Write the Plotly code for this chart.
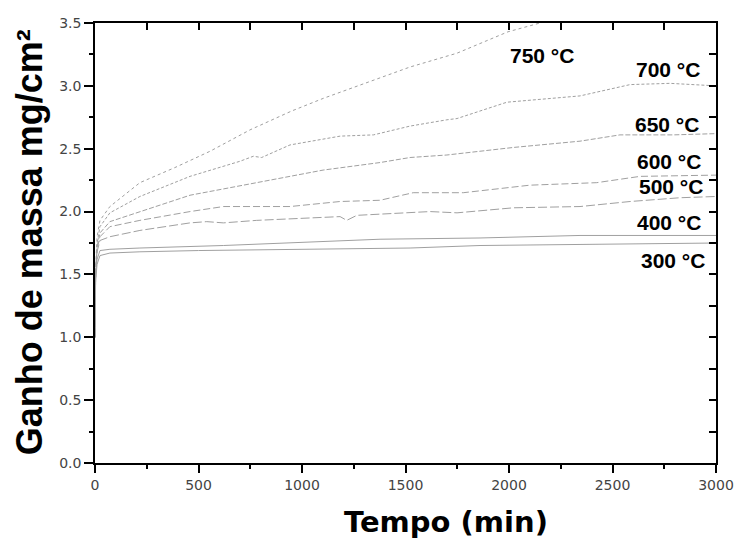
import plotly.graph_objects as go

# ---- data ----
t_750 = [0, 3, 10, 24, 72, 217, 386, 556, 749, 950, 1102, 1377, 1522, 1749, 1995, 2150, 2250]
v_750 = [1.0, 1.55, 1.80, 1.93, 2.04, 2.23, 2.35, 2.48, 2.65, 2.80, 2.90, 3.06, 3.15, 3.26, 3.43, 3.50, 3.55]

t_700 = [0, 3, 10, 24, 72, 217, 459, 700, 765, 805, 942, 1184, 1345, 1522, 1700, 1749, 1990, 2343, 2585, 2778, 3000]
v_700 = [1.0, 1.5, 1.75, 1.88, 1.99, 2.12, 2.28, 2.40, 2.44, 2.43, 2.53, 2.60, 2.61, 2.68, 2.73, 2.74, 2.87, 2.92, 3.01, 3.02, 3.00]

t_650 = [0, 3, 10, 24, 72, 217, 459, 781, 1102, 1377, 1522, 1700, 2021, 2343, 2536, 2793, 3000]
v_650 = [1.0, 1.5, 1.72, 1.83, 1.92, 2.00, 2.13, 2.23, 2.33, 2.39, 2.43, 2.45, 2.51, 2.56, 2.61, 2.61, 2.62]

t_600 = [0, 3, 10, 24, 72, 217, 459, 620, 942, 1184, 1377, 1537, 1779, 2101, 2424, 2633, 3000]
v_600 = [1.0, 1.5, 1.70, 1.80, 1.88, 1.93, 2.00, 2.04, 2.04, 2.08, 2.09, 2.15, 2.15, 2.21, 2.23, 2.28, 2.29]

t_500 = [0, 3, 10, 24, 72, 217, 459, 540, 620, 781, 1184, 1216, 1265, 1377, 1618, 1749, 2021, 2343, 2585, 2826, 3000]
v_500 = [1.0, 1.5, 1.68, 1.77, 1.80, 1.85, 1.91, 1.92, 1.91, 1.93, 1.96, 1.93, 1.97, 1.98, 2.00, 1.99, 2.03, 2.04, 2.08, 2.11, 2.12]

t_400 = [0, 3, 10, 24, 72, 217, 620, 1102, 1377, 1860, 2343, 3000]
v_400 = [1.0, 1.5, 1.62, 1.69, 1.70, 1.71, 1.73, 1.76, 1.78, 1.79, 1.81, 1.81]

t_300 = [0, 3, 10, 24, 72, 217, 500, 1000, 1522, 1860, 2343, 3000]
v_300 = [1.0, 1.45, 1.58, 1.65, 1.67, 1.68, 1.69, 1.70, 1.71, 1.73, 1.74, 1.75]

series_names = ["750 °C", "700 °C", "650 °C", "600 °C", "500 °C", "400 °C", "300 °C"]
label_x = [2157, 2766, 2762, 2771, 2783, 2771, 2790]
label_y = [3.24, 3.13, 2.69, 2.40, 2.20, 1.91, 1.61]

x_title = "Tempo (min)"
y_title = "Ganho de massa mg/cm²"

# ---- figure ----
series = [(t_750, v_750), (t_700, v_700), (t_650, v_650), (t_600, v_600),
          (t_500, v_500), (t_400, v_400), (t_300, v_300)]
dashes = ["dot", "3px,2px", "5px,2px", "7px,3px", "9px,3px", "solid", "solid"]

fig = go.Figure()
for (t, v), name, d in zip(series, series_names, dashes):
    fig.add_trace(go.Scatter(x=t, y=v, mode="lines", name=name,
                             line=dict(color="#a0a0a0", width=1, dash=d),
                             showlegend=False))

# invisible trace to anchor the mirrored (top/right) axes
fig.add_trace(go.Scatter(x=t_300, y=v_300, xaxis="x2", yaxis="y2", mode="lines",
                         line=dict(color="rgba(0,0,0,0)"), hoverinfo="skip",
                         showlegend=False))

tickfont = dict(family="DejaVu Sans", size=14, color="#444444")

fig.update_layout(
    width=734, height=538,
    margin=dict(l=95, r=18, t=23, b=75, autoexpand=False),
    paper_bgcolor="white", plot_bgcolor="white",
    xaxis=dict(range=[0, 3000], tickvals=[0, 500, 1000, 1500, 2000, 2500, 3000],
               automargin=False,
               ticks="outside", ticklen=8, tickwidth=1.5, tickcolor="black",
               showline=True, linecolor="black", linewidth=1.5,
               showgrid=False, zeroline=False, tickfont=tickfont,
               minor=dict(dtick=250, tick0=0, ticks="outside", ticklen=4,
                          tickcolor="black", tickwidth=1.5, showgrid=False)),
    yaxis=dict(range=[0, 3.5], tickvals=[0, 0.5, 1.0, 1.5, 2.0, 2.5, 3.0, 3.5],
               tickformat=".1f", automargin=False,
               ticks="outside", ticklen=9, tickwidth=1.5, tickcolor="black",
               showline=True, linecolor="black", linewidth=1.5,
               showgrid=False, zeroline=False, tickfont=tickfont,
               minor=dict(dtick=0.25, tick0=0, ticks="outside", ticklen=4,
                          tickcolor="black", tickwidth=1.5, showgrid=False)),
    xaxis2=dict(range=[0, 3000], overlaying="x", side="top", anchor="y",
                automargin=False,
                dtick=250, tick0=0, ticks="inside", ticklen=7, tickwidth=1.5,
                tickcolor="black", showticklabels=False, showline=True,
                linecolor="black", linewidth=1.5, showgrid=False, zeroline=False),
    yaxis2=dict(range=[0, 3.5], overlaying="y", side="right", anchor="x",
                automargin=False,
                dtick=0.25, tick0=0, ticks="inside", ticklen=7, tickwidth=1.5,
                tickcolor="black", showticklabels=False, showline=True,
                linecolor="black", linewidth=1.5, showgrid=False, zeroline=False),
)

for name, lx, ly in zip(series_names, label_x, label_y):
    fig.add_annotation(x=lx, y=ly, text=name, showarrow=False,
                       xanchor="center", yanchor="middle",
                       font=dict(family="Liberation Sans", size=21, color="black",
                                 weight="bold"))

fig.add_annotation(xref="paper", yref="paper", x=0.565, y=-0.134, text=x_title,
                   showarrow=False, xanchor="center", yanchor="middle",
                   font=dict(family="DejaVu Sans", size=29, color="black", weight="bold"))
fig.add_annotation(xref="paper", yref="paper", x=-0.106, y=0.502, text=y_title,
                   showarrow=False, xanchor="center", yanchor="middle", textangle=-90,
                   font=dict(family="Liberation Sans", size=36, color="black", weight="bold"))

fig.write_html("out.html", config={"displayModeBar": False},
               post_script="document.body.style.margin='0';document.body.style.overflow='hidden';")
